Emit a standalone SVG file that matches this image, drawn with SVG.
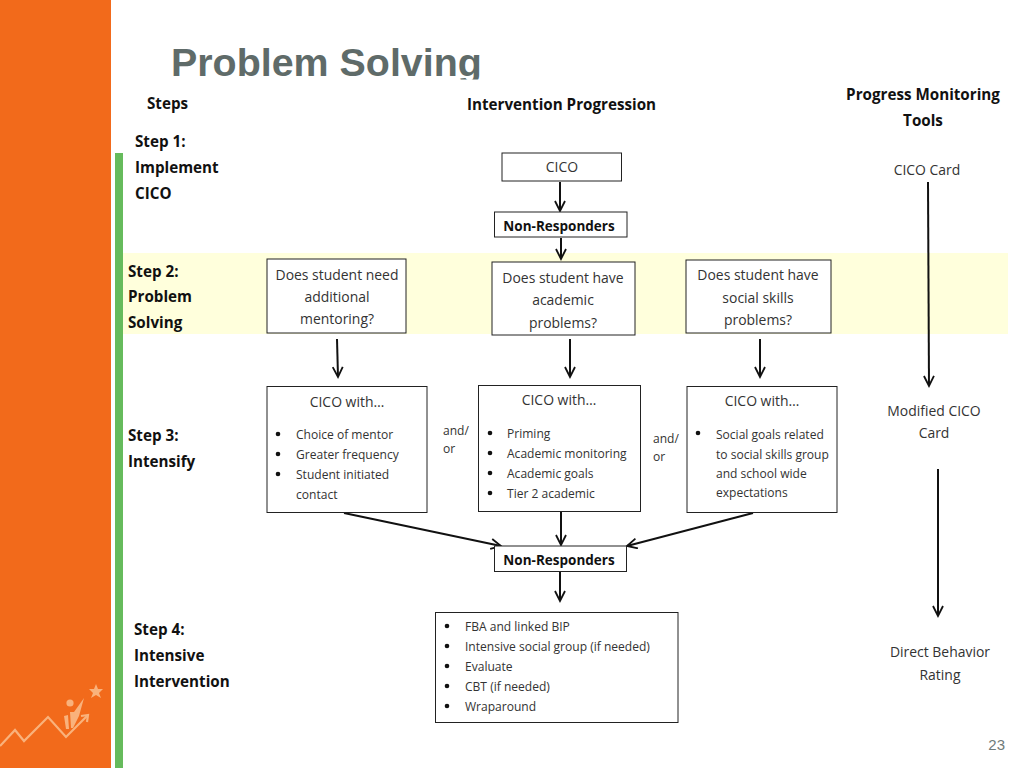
<svg xmlns="http://www.w3.org/2000/svg" width="1024" height="768" viewBox="0 0 1024 768">
<defs>
<marker id="arr" markerUnits="userSpaceOnUse" markerWidth="14" markerHeight="14" refX="11" refY="6" orient="auto"><path d="M1,1 L11,6 L1,11" fill="none" stroke="#111" stroke-width="1.8"/></marker>
<clipPath id="titleclip"><rect x="160" y="30" width="340" height="49.500"/></clipPath>
</defs>
<style>
text{font-family:"Open Sans","Noto Sans","Liberation Sans",sans-serif;fill:#333;font-size:12.5px}
.b{font-weight:700;fill:#111;font-size:15.2px}
.m{font-size:13.95px}
.s{font-size:12.05px}
.c{text-anchor:middle}
.box{fill:#fff;stroke:#222;stroke-width:1}
.bul{fill:#111}
#connectors path{fill:none;stroke:#111;stroke-width:2;marker-end:url(#arr)}
</style>
<rect width="1024" height="768" fill="#fff"/>
<rect x="0" y="0" width="111" height="768" fill="#f26a1b"/>
<rect x="115" y="153" width="8" height="615" fill="#66bb5c"/>
<rect x="123" y="253" width="885" height="81" fill="#ffffdc"/>
<g id="logo" fill="none" stroke="#f9b27c" stroke-width="2.2">
<path d="M0,746 L15,730 L24,741 L48,717 L66,737 L87,716"/>
<path d="M81,716 L88,715 L87,722"/>
<circle cx="70" cy="703" r="3.6" fill="#f9b27c" stroke="none"/>
<path d="M64,716 L68,715 L69,729 L66,729 Z M70,712 L74,712 L84,698 L79,716 L73,728 L71,728 Z" fill="#f9b27c" stroke="none"/>
<path d="M96,684 L98,689 L103,689 L99,693 L101,698 L96,695 L91,698 L93,693 L89,689 L94,689 Z" fill="#f9b27c" stroke="none"/>
</g>
<g clip-path="url(#titleclip)"><text x="171" y="75.500" style="font-family:'Liberation Sans',sans-serif;font-size:39.4px;font-weight:700;fill:#5f6b69">Problem Solving</text></g>
<text class="b" x="147" y="109">Steps</text>
<text class="b" x="467" y="110">Intervention Progression</text>
<text class="b c" x="923" y="100">Progress Monitoring</text>
<text class="b c" x="923" y="126">Tools</text>
<text class="b" x="135" y="147">Step 1:</text>
<text class="b" x="135" y="173">Implement</text>
<text class="b" x="135" y="199">CICO</text>
<text class="b" x="128" y="277">Step 2:</text>
<text class="b" x="128" y="302">Problem</text>
<text class="b" x="128" y="328">Solving</text>
<text class="b" x="128" y="441">Step 3:</text>
<text class="b" x="128" y="467">Intensify</text>
<text class="b" x="134" y="635">Step 4:</text>
<text class="b" x="134" y="661">Intensive</text>
<text class="b" x="134" y="687">Intervention</text>
<g id="connectors">
<path d="M560,182 L560,211"/>
<path d="M561,238 L561,259"/>
<path d="M337,339 L338,377"/>
<path d="M570,339 L570,377"/>
<path d="M760,339 L760,377"/>
<path d="M344,513 L501,546"/>
<path d="M561,512 L561,545"/>
<path d="M753,513 L627,546"/>
<path d="M560,572 L560,601"/>
<path d="M928,182 L929,386"/>
<path d="M938,469 L938,616"/>
</g>
<g id="n-cico"><rect class="box" x="502" y="153" width="119.500" height="28"/><text class="m c" x="562" y="172">CICO</text></g>
<g id="n-nr1"><rect class="box" x="494.500" y="212" width="132.500" height="25"/><text class="b c" style="font-size:13.500px" x="559" y="231">Non-Responders</text></g>
<g id="n-q1"><rect class="box" x="267" y="259" width="139" height="74"/><text class="m c" x="337" y="280">Does student need</text><text class="m c" x="337" y="302">additional</text><text class="m c" x="337" y="324">mentoring?</text></g>
<g id="n-q2"><rect class="box" x="492" y="262" width="143" height="73"/><text class="m c" x="563" y="283">Does student have</text><text class="m c" x="563" y="305">academic</text><text class="m c" x="563" y="328">problems?</text></g>
<g id="n-q3"><rect class="box" x="686" y="260" width="145" height="73"/><text class="m c" x="758" y="280">Does student have</text><text class="m c" x="758" y="303">social skills</text><text class="m c" x="758" y="325">problems?</text></g>
<g id="n-a1"><rect class="box" x="267" y="386.500" width="160" height="126"/><text class="m c" x="347" y="407">CICO with…</text>
<circle class="bul" cx="278" cy="434" r="2.300"/><circle class="bul" cx="278" cy="454" r="2.300"/><circle class="bul" cx="278" cy="474" r="2.300"/>
<text class="s" x="296" y="438.500">Choice of mentor</text><text class="s" x="296" y="458.500">Greater frequency</text><text class="s" x="296" y="478.500">Student initiated</text><text class="s" x="296" y="498.500">contact</text></g>
<g id="n-a2"><rect class="box" x="478.500" y="385.500" width="162" height="126"/><text class="m c" x="559" y="405">CICO with…</text>
<circle class="bul" cx="490" cy="433" r="2.300"/><circle class="bul" cx="490" cy="453" r="2.300"/><circle class="bul" cx="490" cy="473" r="2.300"/><circle class="bul" cx="490" cy="493" r="2.300"/>
<text class="s" x="507" y="438">Priming</text><text class="s" x="507" y="457.500">Academic monitoring</text><text class="s" x="507" y="477.500">Academic goals</text><text class="s" x="507" y="497.500">Tier 2 academic</text></g>
<g id="n-a3"><rect class="box" x="687" y="386.500" width="150" height="126"/><text class="m c" x="762" y="406">CICO with…</text>
<circle class="bul" cx="698" cy="433" r="2.300"/>
<text class="s" x="716" y="438.500">Social goals related</text><text class="s" x="716" y="458.500">to social skills group</text><text class="s" x="716" y="477.500">and school wide</text><text class="s" x="716" y="496.500">expectations</text></g>
<text class="s" x="443" y="435">and/</text><text class="s" x="443" y="453">or</text>
<text class="s" x="653" y="443">and/</text><text class="s" x="653" y="461">or</text>
<g id="n-nr2"><rect class="box" x="494.500" y="546" width="132" height="25.500"/><text class="b c" style="font-size:13.500px" x="559" y="565">Non-Responders</text></g>
<g id="n-list"><rect class="box" x="435.500" y="612.500" width="242.500" height="110"/>
<circle class="bul" cx="447" cy="626" r="2.300"/><circle class="bul" cx="447" cy="646" r="2.300"/><circle class="bul" cx="447" cy="666" r="2.300"/><circle class="bul" cx="447" cy="686" r="2.300"/><circle class="bul" cx="447" cy="706" r="2.300"/>
<text class="s" x="465" y="631">FBA and linked BIP</text><text class="s" x="465" y="651">Intensive social group (if needed)</text><text class="s" x="465" y="671">Evaluate</text><text class="s" x="465" y="691">CBT (if needed)</text><text class="s" x="465" y="711">Wraparound</text></g>
<g id="t-card"><text class="m c" x="927" y="175">CICO Card</text></g>
<g id="t-mod"><text class="m c" x="934" y="416">Modified CICO</text><text class="m c" x="934" y="438">Card</text></g>
<g id="t-dbr"><text class="m c" x="940" y="657">Direct Behavior</text><text class="m c" x="940" y="680">Rating</text></g>
<text x="1005" y="750" text-anchor="end" style="font-family:'Liberation Sans',sans-serif;font-size:15px;fill:#6f7b7a">23</text>
</svg>
